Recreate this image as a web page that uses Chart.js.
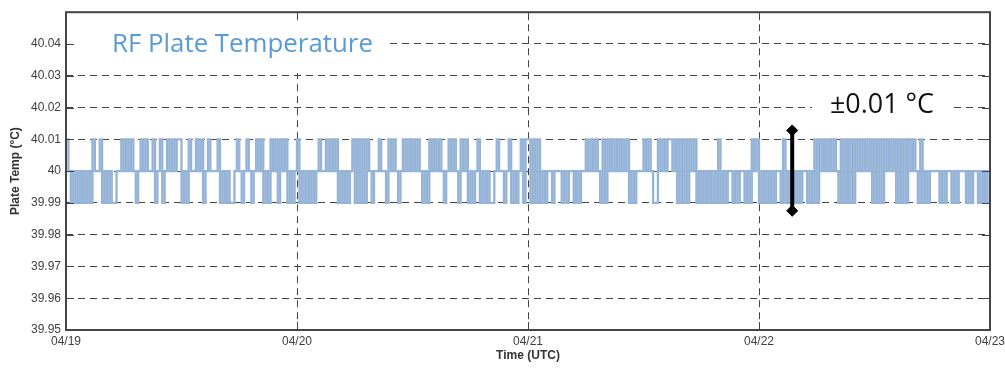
<!DOCTYPE html>
<html>
<head>
<meta charset="utf-8">
<script src="https://cdn.jsdelivr.net/npm/chart.js@4.4.0/dist/chart.umd.min.js"></script>
<style>
    html, body { margin: 0; padding: 0; background: #fff; }
    #wrap { width: 1005px; height: 370px; }
</style>
</head>
<body>
<div id="wrap"><canvas id="chart"></canvas></div>
<script>
// x axis: one tick per day, midnight UTC
const dayLabels = ['04/19', '04/20', '04/21', '04/22', '04/23'];

// plate temperature, one reading per 15 minutes, one string per day
// '+' = 40.01, '0' = 40.00, '-' = 39.99
const day1 = '+0-0-0-0-0' + '-+00+-0-0-' + '-00+0+0+0-' + '0+0+00+-0+' + '-0+0+0++-0' +
             '-+00+0+-0+' + '000+-0-0--' + '0+0-0+0-0+' + '0+-0-+0+-+' + '0+-0-0';
const day2 = '+-0-0-0-0+' + '00+0+0+-0-' + '0-0+-+-+-+' + '0-00+00-+0' + '+0-0+0+0+0' +
             '+0-0-+0+0+' + '0-0+0+0-+0' + '+-0-0+-0-0' + '--0+00-0+-' + '0-0+-+';
const day3 = '+-+-+-0-00' + '-000-0-00-' + '0-00+0+0+0' + '-+-+0+0+0+' + '0+-0-000+0' +
             '+0--+0+0++' + '0+-+-+-+0+' + '-0-0-0-0-+' + '-0-00-0-00' + '-0-+0+';
const day4 = '-0-0-0-00-' + '+-0-0-0-00' + '-0-+-+0+0+' + '0+0-+-+-+-' + '+0+0+0+-+-' +
             '+-+0+0+-+-' + '+-+0+0-+-0' + '-0000-0-00' + '-0-000-0-0' + '0-0-0-';
const levels = { '+': 40.01, '0': 40.00, '-': 39.99 };

// y axis range
const yMin = 39.95;
const yMax = 40.05;
const yStep = 0.01;

// the ±0.01 °C marker (hours since 04/19 00:00, °C)
const markerHours = [75.45, 75.45];
const markerTemps = [40.0128, 39.9875];

const points = [];
[day1, day2, day3, day4].forEach((s, d) => {
    for (let i = 0; i < s.length; i++) {
        points.push({ x: d * 24 + i * 24 / s.length, y: levels[s[i]] });
    }
});
points.push({ x: 96, y: points[points.length - 1].y });

const markerPoints = markerHours.map((h, i) => ({ x: h, y: markerTemps[i] }));

function fitFont(ctx, text, width, family, weight) {
    ctx.font = `${weight || ''} 100px ${family}`;
    return 100 * width / ctx.measureText(text).width;
}

// white boxes + texts inside the plot, frame and inward ticks
const decorations = {
    id: 'decorations',
    beforeDatasetsDraw(chart) {
        const { ctx, chartArea: a } = chart;
        ctx.save();
        ctx.fillStyle = '#fff';
        ctx.fillRect(a.left + 1, a.top + 1, 318, 60);
        ctx.fillRect(812, 84, 140, 40);

        let size = fitFont(ctx, 'RF Plate Temperature', 261, '"Open Sans"');
        ctx.font = `${size}px "Open Sans"`;
        ctx.fillStyle = '#5b9bd5';
        ctx.textBaseline = 'alphabetic';
        ctx.fillText('RF Plate Temperature', 112, 52);

        size = fitFont(ctx, '±0.01 °C', 104, '"Open Sans"');
        ctx.font = `${size}px "Open Sans"`;
        ctx.fillStyle = '#111';
        ctx.fillText('±0.01 °C', 830, 113);
        ctx.restore();
    },
    afterDraw(chart) {
        const { ctx, chartArea: a, scales } = chart;
        ctx.save();
        ctx.strokeStyle = '#444';
        ctx.lineWidth = 1;
        ctx.beginPath();
        scales.y.ticks.forEach(t => {
            const y = Math.round(scales.y.getPixelForValue(t.value)) + 0.5;
            ctx.moveTo(a.left, y); ctx.lineTo(a.left + 8, y);
            ctx.moveTo(a.right, y); ctx.lineTo(a.right - 8, y);
        });
        scales.x.ticks.forEach(t => {
            const x = Math.round(scales.x.getPixelForValue(t.value)) + 0.5;
            ctx.moveTo(x, a.bottom); ctx.lineTo(x, a.bottom - 8);
            ctx.moveTo(x, a.top); ctx.lineTo(x, a.top + 8);
        });
        ctx.stroke();
        ctx.lineWidth = 2;
        ctx.strokeRect(a.left, a.top, a.right - a.left, a.bottom - a.top);
        ctx.restore();
    }
};

new Chart(document.getElementById('chart'), {
    type: 'line',
    data: {
        datasets: [{
            label: '±0.01 °C',
            data: markerPoints,
            borderColor: '#000',
            borderWidth: 4,
            pointStyle: 'rectRot',
            pointRadius: 5.5,
            pointBackgroundColor: '#000',
            pointBorderColor: '#000',
            pointBorderWidth: 1
        },
        {
            label: 'Plate Temp',
            data: points,
            borderColor: '#95b3d7',
            borderWidth: 2.3,
            stepped: true,
            pointRadius: 0,
            fill: false
        }]
    },
    plugins: [decorations],
    options: {
        responsive: true,
        maintainAspectRatio: false,
        animation: false,
        events: [],
        layout: { padding: { left: 0, right: 15, top: 7, bottom: 0 } },
        plugins: {
            legend: { display: false },
            tooltip: { enabled: false }
        },
        scales: {
            x: {
                type: 'linear',
                min: 0,
                max: 96,
                ticks: {
                    stepSize: 24,
                    padding: 4,
                    maxRotation: 0,
                    color: '#404040',
                    font: { family: '"Liberation Sans", Arial', size: 12 },
                    callback: v => dayLabels[Math.round(v / 24)]
                },
                grid: { color: '#444', lineWidth: 1, drawTicks: false },
                border: { display: false, dash: [7, 5] },
                title: {
                    display: true,
                    text: 'Time (UTC)',
                    color: '#333',
                    font: { family: '"Liberation Sans", Arial', size: 12, weight: 'bold' },
                    padding: { top: 0, bottom: 7 }
                },
                afterFit: s => { s.height = 40; s.paddingLeft = 0; s.paddingRight = 0; }
            },
            y: {
                min: yMin,
                max: yMax,
                ticks: {
                    stepSize: yStep,
                    padding: 5,
                    color: '#404040',
                    font: { family: '"Liberation Sans", Arial', size: 12 },
                    callback: v => Math.abs(v - yMax) < 1e-6 ? '' : String(Number(v.toFixed(2)))
                },
                grid: { color: '#444', lineWidth: 1, drawTicks: false },
                border: { display: false, dash: [7, 5] },
                title: {
                    display: true,
                    text: 'Plate Temp (°C)',
                    color: '#333',
                    font: { family: '"Liberation Sans", Arial', size: 12, weight: 'bold' },
                    padding: { top: 8, bottom: 0 }
                },
                afterFit: s => { s.width = 66; }
            }
        }
    }
});
</script>
</body>
</html>
